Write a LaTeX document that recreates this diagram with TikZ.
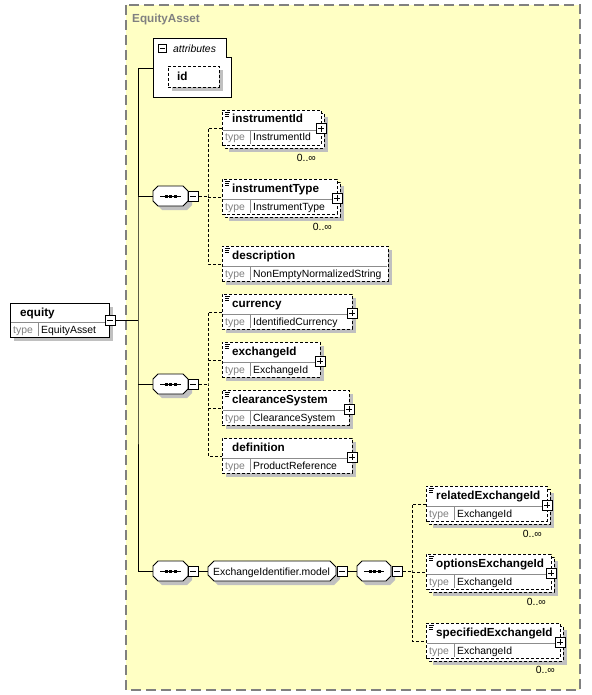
\documentclass[tikz,border=0pt]{standalone}
\usepackage{fontspec}
\setmainfont{Liberation Sans}
\usetikzlibrary{fit}
\definecolor{bgyellow}{RGB}{255,255,196}
\definecolor{bggray}{RGB}{128,128,128}
\definecolor{shadowgray}{RGB}{192,192,192}
\definecolor{typegray}{RGB}{128,128,128}
\definecolor{divgray}{RGB}{140,140,140}
\tikzset{
  shadowfill/.style={fill=shadowgray, draw=none},
  solidbox/.style={draw=black, fill=white, line width=0.9pt, inner sep=0pt},
  dashbox/.style={solidbox, dash pattern=on 3pt off 2pt},
  backbox/.style={draw=black, fill=white, line width=0.9pt, dash pattern=on 3pt off 2pt},
  divline/.style={draw=divgray, line width=0.8pt},
  nametext/.style={anchor=base west, inner sep=0pt, font=\fontsize{11.7}{13}\selectfont\bfseries},
  typetext/.style={anchor=base west, inner sep=0pt, text=typegray, font=\fontsize{10.4}{12}\selectfont},
  valtext/.style={anchor=base west, inner sep=0pt, font=\fontsize{10.4}{12}\selectfont},
  multtext/.style={anchor=base east, inner sep=0pt, font=\fontsize{10.4}{12}\selectfont},
  pm/.style={draw=black, fill=white, line width=1pt, minimum size=10pt, inner sep=0pt},
  pmsign/.style={draw=black, line width=1pt},
  conn/.style={draw=black, line width=0.9pt},
  optconn/.style={conn, dash pattern=on 3pt off 2pt},
  fitbox/.style={inner sep=0pt, draw=none},
  shapeline/.style={draw=black, fill=white, line width=0.9pt},
  annotline/.style={draw=black, line width=0.6pt},
}
% element: #1 name #2 x1 #3 y1 #4 x2 #5 y2 #6 divider y #7 label #8 type #9 box style
\newcommand\elem[9]{%
  \node[fit={(#2,#3) (#4,#5)}, #9] (#1) {};
  \draw[divline] (#2+0.6,#6) -- (#4-0.6,#6);
  \draw[divline] (#2+28,#6) -- (#2+28,#5-0.6);
  \node[nametext] (#1-name) at (#2+10,#3+13) {#7};
  \node[typetext] (#1-tl) at (#2+3,#6+11) {type};
  \node[valtext] (#1-tv) at (#2+31,#6+11) {#8};
  \coordinate (#1-in) at (#2,#6-2);
}
\newcommand\eshadow[5]{\fill[shadowfill] (#1+#5,#2+#5) rectangle (#3+#5,#4+#5);}
\newcommand\eback[4]{\draw[backbox] (#1+3,#2+3) rectangle (#3+3,#4+3);}
\newcommand\annot[2]{\draw[annotline] (#1+3,#2+2) -- (#1+8,#2+2) (#1+3,#2+4) -- (#1+7,#2+4) (#1+3,#2+6) -- (#1+7,#2+6);}
\newcommand\plusbox[3]{\node[pm] (#1) at (#2,#3) {};
  \draw[pmsign] (#2-3,#3) -- (#2+3,#3) (#2,#3-3) -- (#2,#3+3);}
\newcommand\minusbox[3]{\node[pm] (#1) at (#2,#3) {};
  \draw[pmsign] (#2-3,#3) -- (#2+3,#3);}
% sequence symbol: #1 name #2 x1 #3 x2 #4 yc
\newcommand\seqsym[4]{%
  \fill[shadowfill] (#2+9,#4-6) -- (#3-1,#4-6) -- (#3+4,#4-1) -- (#3+4,#4+9) -- (#3-1,#4+14) -- (#2+9,#4+14) -- (#2+4,#4+9) -- (#2+4,#4-1) -- cycle;
  \node[fitbox, fit={(#2,#4-10) (#3,#4+10)}] (#1) {};
  \draw[shapeline] (#2+5,#4-10) -- (#3-5,#4-10) -- (#3,#4-5) -- (#3,#4+5) -- (#3-5,#4+10) -- (#2+5,#4+10) -- (#2,#4+5) -- (#2,#4-5) -- cycle;
  \draw[line width=1pt] (#2+7,#4) -- (#3-7,#4);
  \fill (#2+11.5,#4-1.5) rectangle ++(3,3);
  \fill (#2+16,#4-1.5) rectangle ++(3,3);
  \fill (#2+20.5,#4-1.5) rectangle ++(3,3);
}
\begin{document}
\begin{tikzpicture}[x=1pt,y=-1pt]
\useasboundingbox (0,0) rectangle (591,695);
% complex type background
\fill[bgyellow] (126,5) rectangle (580,690);
\draw[bggray, line width=1.2pt, dash pattern=on 10pt off 5pt] (126,5) rectangle (580,690);
\node[anchor=base west, inner sep=0pt, text=bggray, font=\fontsize{11.7}{13}\selectfont\bfseries] (title) at (132,22.5) {EquityAsset};

% attributes
\node[fitbox, fit={(153,38) (231,97)}] (attrs) {};
\draw[shapeline] (153,38) -- (226,38) -- (226,57) -- (231,57) -- (231,97) -- (153,97) -- cycle;
\node[pm, minimum size=8pt] (attrm) at (162,49) {};
\draw[pmsign] (159.5,49) -- (164.5,49);
\node[anchor=base west, inner sep=0pt, font=\fontsize{10.4}{12}\selectfont\itshape] (attrlabel) at (173,52.5) {attributes};
\fill[shadowfill] (172,70) rectangle (223,91);
\node[fit={(168,66) (219,87)}, dashbox] (idattr) {};
\node[nametext] (idlabel) at (177,80.5) {id};

% equity
\eshadow{10}{303}{109}{337}{4}
\elem{equity}{10}{303}{109}{337}{322}{equity}{EquityAsset}{solidbox}
\minusbox{eqm}{110}{320}

% group 1
\seqsym{s1}{153}{188}{196}
\minusbox{s1m}{193}{196}
\eshadow{222}{110}{321}{145}{7}
\eback{222}{110}{321}{145}
\elem{instrumentId}{222}{110}{321}{145}{130}{instrumentId}{InstrumentId}{dashbox}
\annot{222}{110}
\plusbox{instrumentIdp}{321}{129}
\node[multtext] (instrumentIdmult) at (316,161) {0..∞};

\eshadow{222}{179}{337}{214}{7}
\eback{222}{179}{337}{214}
\elem{instrumentType}{222}{179}{337}{214}{199}{instrumentType}{InstrumentType}{dashbox}
\annot{222}{179}
\plusbox{instrumentTypep}{337}{198}
\node[multtext] (instrumentTypemult) at (332,230) {0..∞};

\eshadow{222}{246}{388}{281}{4}
\elem{description}{222}{246}{388}{281}{266}{description}{NonEmptyNormalizedString}{dashbox}
\annot{222}{246}

% group 2
\seqsym{s2}{153}{188}{384}
\minusbox{s2m}{193}{384}
\eshadow{222}{294}{352}{329}{4}
\elem{currency}{222}{294}{352}{329}{314}{currency}{IdentifiedCurrency}{dashbox}
\annot{222}{294}
\plusbox{currencyp}{352}{313}

\eshadow{222}{342}{320}{377}{4}
\elem{exchangeId}{222}{342}{320}{377}{362}{exchangeId}{ExchangeId}{dashbox}
\annot{222}{342}
\plusbox{exchangeIdp}{320}{361}

\eshadow{222}{390}{349}{425}{4}
\elem{clearanceSystem}{222}{390}{349}{425}{410}{clearanceSystem}{ClearanceSystem}{dashbox}
\annot{222}{390}
\plusbox{clearanceSystemp}{349}{409}

\eshadow{222}{438}{352}{473}{4}
\elem{definition}{222}{438}{352}{473}{458}{definition}{ProductReference}{dashbox}
\plusbox{definitionp}{352}{457}

% group 3
\seqsym{s3}{153}{188}{571}
\minusbox{s3m}{193}{571}
\fill[shadowfill] (218,565) -- (334,565) -- (340,571) -- (340,579) -- (334,585) -- (218,585) -- (212,579) -- (212,571) -- cycle;
\node[fitbox, fit={(208,561) (336,581)}] (grp) {};
\draw[shapeline] (214,561) -- (330,561) -- (336,567) -- (336,575) -- (330,581) -- (214,581) -- (208,575) -- (208,567) -- cycle;
\node[valtext] (grplabel) at (213,575) {ExchangeIdentifier.model};
\minusbox{gm}{342}{571}
\seqsym{s4}{357}{391}{571}
\minusbox{s4m}{397}{571}

\eshadow{426}{486}{547}{521}{7}
\eback{426}{486}{547}{521}
\elem{relatedExchangeId}{426}{486}{547}{521}{506}{relatedExchangeId}{ExchangeId}{dashbox}
\annot{426}{486}
\plusbox{relatedExchangeIdp}{547}{505}
\node[multtext] (relatedmult) at (542,537) {0..∞};

\eshadow{426}{554}{551}{589}{7}
\eback{426}{554}{551}{589}
\elem{optionsExchangeId}{426}{554}{551}{589}{574}{optionsExchangeId}{ExchangeId}{dashbox}
\annot{426}{554}
\plusbox{optionsExchangeIdp}{551}{573}
\node[multtext] (optionsmult) at (546,605) {0..∞};

\eshadow{426}{623}{560}{658}{7}
\eback{426}{623}{560}{658}
\elem{specifiedExchangeId}{426}{623}{560}{658}{643}{specifiedExchangeId}{ExchangeId}{dashbox}
\annot{426}{623}
\plusbox{specifiedExchangeIdp}{560}{642}
\node[multtext] (specifiedmult) at (555,673) {0..∞};

% connectors
\coordinate (trunk) at (138,320);
\coordinate (attrin) at (153,68);
\draw[conn] (eqm.east) -- (trunk);
\draw[conn] (attrin) -| (trunk) |- (s3.west);
\draw[conn] (trunk |- s1.west) -- (s1.west);
\draw[conn] (trunk |- s2.west) -- (s2.west);

\coordinate (b1) at (208,196);
\draw[optconn] (s1m.east) -- (b1);
\draw[optconn] (instrumentId-in) -| (b1) |- (description-in);
\draw[optconn] (b1 |- instrumentType-in) -- (instrumentType-in);

\coordinate (b2) at (208,384);
\draw[optconn] (s2m.east) -- (b2);
\draw[optconn] (currency-in) -| (b2) |- (definition-in);
\draw[optconn] (b2 |- exchangeId-in) -- (exchangeId-in);
\draw[optconn] (b2 |- clearanceSystem-in) -- (clearanceSystem-in);

\draw[conn] (s3m.east) -- (grp.west);
\draw[conn] (gm.east) -- (s4.west);
\coordinate (b3) at (412,571);
\draw[optconn] (s4m.east) -- (b3);
\draw[optconn] (relatedExchangeId-in) -| (b3) |- (specifiedExchangeId-in);
\draw[optconn] (b3 |- optionsExchangeId-in) -- (optionsExchangeId-in);
\end{tikzpicture}
\end{document}
